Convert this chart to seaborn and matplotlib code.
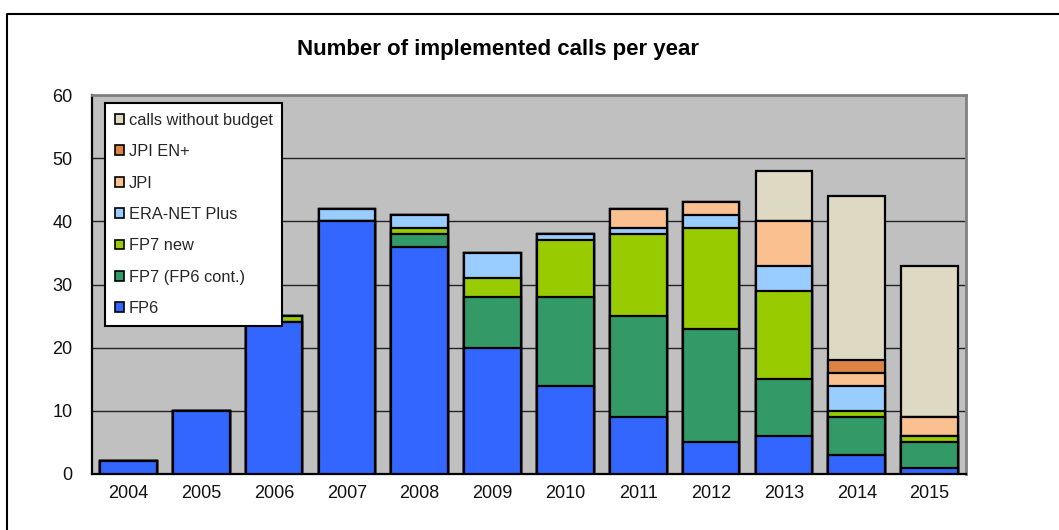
import numpy as np
import pandas as pd
import matplotlib
matplotlib.use("Agg")
import matplotlib.pyplot as plt
from matplotlib.patches import Patch
from matplotlib.lines import Line2D
import seaborn as sns

years = ["2004", "2005", "2006", "2007", "2008", "2009", "2010", "2011", "2012", "2013", "2014", "2015"]
fp6 =          [2, 10, 24, 40, 36, 20, 14,  9,  5,  6,  3,  1]
fp7_cont =     [0,  0,  0,  0,  2,  8, 14, 16, 18,  9,  6,  4]
fp7_new =      [0,  0,  1,  0,  1,  3,  9, 13, 16, 14,  1,  1]
era_net_plus = [0,  0,  0,  2,  2,  4,  1,  1,  2,  4,  4,  0]
jpi =          [0,  0,  0,  0,  0,  0,  0,  3,  2,  7,  2,  3]
jpi_en =       [0,  0,  0,  0,  0,  0,  0,  0,  0,  0,  2,  0]
no_budget =    [0,  0,  0,  0,  0,  0,  0,  0,  0,  8, 26, 24]

series_names = ["FP6", "FP7 (FP6 cont.)", "FP7 new", "ERA-NET Plus", "JPI", "JPI EN+", "calls without budget"]
series_vals = [fp6, fp7_cont, fp7_new, era_net_plus, jpi, jpi_en, no_budget]
colors = ["#3366FF", "#339966", "#99CC00", "#99CCFF", "#FAC090", "#DD8444", "#DDD9C3"]

sns.set_style("white")
plt.rcParams['font.family'] = ['Liberation Sans', 'DejaVu Sans']

fig = plt.figure(figsize=(10.59, 5.30), dpi=100)
ax = fig.add_axes([92/1059, 56/530, 874/1059, 379/530])
ax.set_facecolor("#C0C0C0")

cum = np.cumsum(np.array(series_vals), axis=0)
for i in range(len(series_names) - 1, -1, -1):
    df = pd.DataFrame({"year": years, "value": cum[i]})
    sns.barplot(data=df, x="year", y="value", color=colors[i], saturation=1,
                width=0.78, edgecolor="black", linewidth=1.6, ax=ax, zorder=3)

ax.set_ylim(0, 60)
ax.set_xlim(-0.5, len(years) - 0.5)
ax.set_yticks(range(0, 61, 10))
ax.yaxis.grid(True, color="#222222", linewidth=1.0, zorder=0)
ax.set_axisbelow(True)
ax.set_xlabel("")
ax.set_ylabel("")
ax.tick_params(axis="x", which="major", length=0, labelsize=13, pad=8, colors="#111111")
ax.set_xticks(np.arange(0.5, len(years) - 1, 1.0), minor=True)
ax.tick_params(axis="x", which="minor", length=6, width=1.2, direction="out", color="black")
ax.tick_params(axis="y", length=6, width=1.2, direction="out", labelsize=13, pad=8, colors="black", labelcolor="#111111")
for s in ["left", "bottom"]:
    ax.spines[s].set_color("black")
    ax.spines[s].set_linewidth(1.6)
for s in ["top", "right"]:
    ax.spines[s].set_color("#808080")
    ax.spines[s].set_linewidth(2.0)

handles = [Patch(facecolor=colors[i], edgecolor="black", linewidth=1.2, label=series_names[i])
           for i in range(len(series_names) - 1, -1, -1)]
leg = ax.legend(handles=handles, loc="upper left", bbox_to_anchor=(0.0149, 0.979),
                borderaxespad=0, fontsize=11.8, handlelength=0.55, handleheight=0.55,
                handletextpad=0.3, labelspacing=1.0, fancybox=False, framealpha=1,
                edgecolor="black", borderpad=0.6)
leg.get_frame().set_linewidth(1.5)
leg.set_zorder(5)

fig.text(498/1059, 1 - 50/530, "Number of implemented calls per year", ha="center", va="center",
         fontsize=16, fontweight="bold", color="black")

fig.add_artist(Line2D([7/1059, 7/1059, 1.0], [0.0, 1 - 14/530, 1 - 14/530],
                      transform=fig.transFigure, color="black", linewidth=1.5))

fig.savefig("out.png", dpi=100)
